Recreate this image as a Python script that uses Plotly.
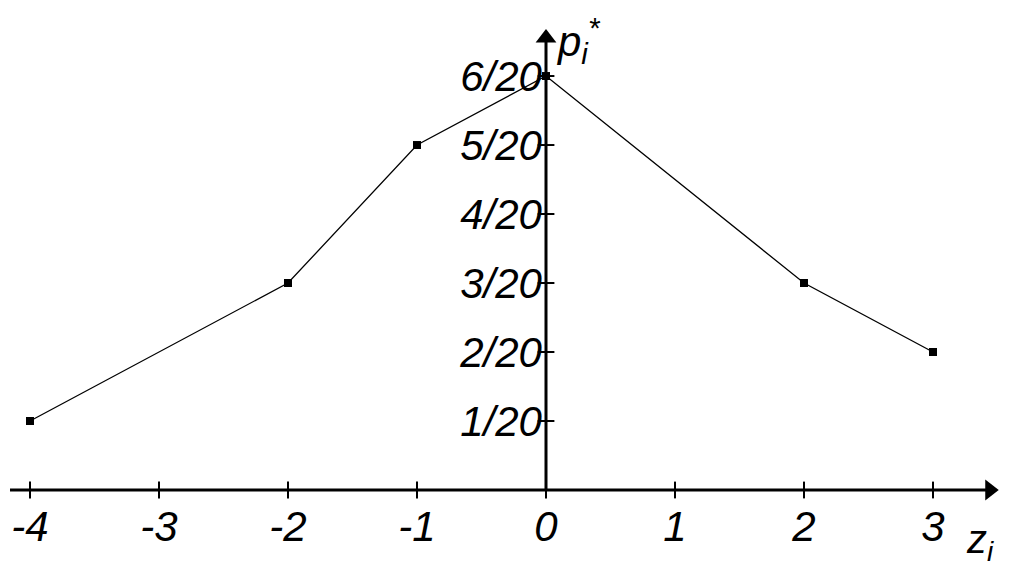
import plotly.graph_objects as go

# Frequency polygon of relative frequencies p_i* over values z_i
z_values = [-4, -2, -1, 0, 2, 3]
p_counts = [1, 3, 5, 6, 3, 2]
n_total = 20
p_values = [c / n_total for c in p_counts]

x_ticks = [-4, -3, -2, -1, 0, 1, 2, 3]
x_tick_text = ["-4", "-3", "-2", "-1", "0", "1", "2", "3"]
y_ticks = [k / n_total for k in range(1, 7)]
y_tick_text = [f"{k}/{n_total}" for k in range(1, 7)]

X_RANGE = [-4.2326, 3.597]
Y_RANGE = [-0.0587, 0.3551]
X_END = 3.44
Y_END = 0.3275

FONT = "Liberation Sans, Arial, sans-serif"

fig = go.Figure()

# axis lines
fig.add_shape(type="line", x0=-4.155, x1=X_END, y0=0, y1=0,
              line=dict(color="black", width=3), layer="below")
fig.add_shape(type="line", x0=0, x1=0, y0=0, y1=Y_END,
              line=dict(color="black", width=3), layer="below")

# polygon
fig.add_trace(go.Scatter(
    x=z_values, y=p_values, mode="lines+markers",
    line=dict(color="black", width=1.3),
    marker=dict(symbol="square", size=8, color="black"),
    hoverinfo="x+y", showlegend=False,
))

# crossing tick marks
fig.add_trace(go.Scatter(
    x=x_ticks, y=[0] * len(x_ticks), mode="markers",
    marker=dict(symbol="line-ns", size=12, line=dict(color="black", width=2)),
    hoverinfo="skip", showlegend=False,
))
fig.add_trace(go.Scatter(
    x=[0] * len(y_ticks), y=y_ticks, mode="markers",
    marker=dict(symbol="line-ew", size=12, line=dict(color="black", width=2)),
    hoverinfo="skip", showlegend=False,
))

# arrowheads
fig.add_trace(go.Scatter(
    x=[X_END], y=[0], mode="markers",
    marker=dict(symbol="triangle-right", size=18, color="black"),
    hoverinfo="skip", showlegend=False,
))
fig.add_trace(go.Scatter(
    x=[0], y=[Y_END], mode="markers",
    marker=dict(symbol="triangle-up", size=18, color="black"),
    hoverinfo="skip", showlegend=False,
))

# axis names
fig.add_annotation(x=0.06, y=0.326, xref="x", yref="y", xanchor="left", yanchor="middle",
                   text="<i>p<sub>i</sub><sup>*</sup></i>", showarrow=False,
                   font=dict(family=FONT, size=42, color="black"))
fig.add_annotation(x=3.24, y=-0.038, xref="x", yref="y", xanchor="left", yanchor="middle",
                   text="<i>z<sub>i</sub></i>", showarrow=False,
                   font=dict(family=FONT, size=40, color="black"))

x_pos = (0 - Y_RANGE[0]) / (Y_RANGE[1] - Y_RANGE[0])
y_pos = (0 - X_RANGE[0]) / (X_RANGE[1] - X_RANGE[0])

fig.update_layout(
    width=1010, height=571,
    margin=dict(l=0, r=0, t=0, b=0),
    paper_bgcolor="white", plot_bgcolor="white",
    xaxis=dict(range=X_RANGE, tickvals=x_ticks, ticktext=x_tick_text,
               anchor="free", position=x_pos, showline=False, showgrid=False,
               zeroline=False, ticks="", ticklabelstandoff=8,
               tickfont=dict(family=FONT, size=42, color="black", style="italic")),
    yaxis=dict(range=Y_RANGE, tickvals=y_ticks, ticktext=y_tick_text,
               anchor="free", position=y_pos, showline=False, showgrid=False,
               zeroline=False, ticks="", ticklabelstandoff=4,
               tickfont=dict(family=FONT, size=42, color="black", style="italic")),
)

fig.write_html("out.html")
